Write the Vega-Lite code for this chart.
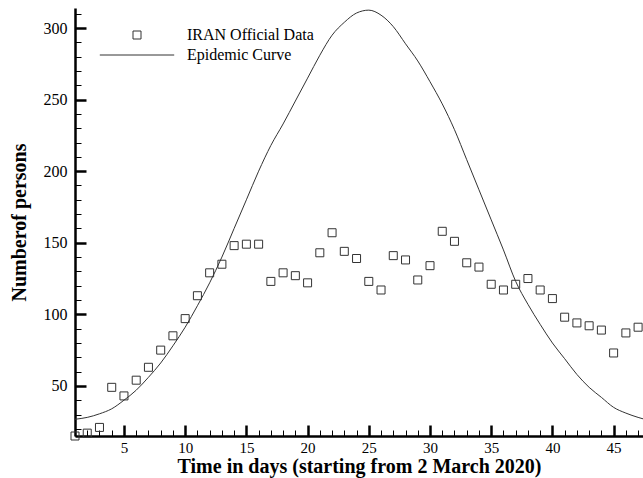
{
  "$schema": "https://vega.github.io/schema/vega-lite/v6.json",
  "width": 568,
  "height": 428,
  "autosize": {"type": "none"},
  "padding": {"left": 75, "top": 8, "right": 0, "bottom": 42},
  "background": "white",
  "config": {"view": {"stroke": null}},
  "datasets": {
    "obs": [
      {"day": 1, "value": 15, "series": "IRAN Official Data"},
      {"day": 2, "value": 17, "series": "IRAN Official Data"},
      {"day": 3, "value": 21, "series": "IRAN Official Data"},
      {"day": 4, "value": 49, "series": "IRAN Official Data"},
      {"day": 5, "value": 43, "series": "IRAN Official Data"},
      {"day": 6, "value": 54, "series": "IRAN Official Data"},
      {"day": 7, "value": 63, "series": "IRAN Official Data"},
      {"day": 8, "value": 75, "series": "IRAN Official Data"},
      {"day": 9, "value": 85, "series": "IRAN Official Data"},
      {"day": 10, "value": 97, "series": "IRAN Official Data"},
      {"day": 11, "value": 113, "series": "IRAN Official Data"},
      {"day": 12, "value": 129, "series": "IRAN Official Data"},
      {"day": 13, "value": 135, "series": "IRAN Official Data"},
      {"day": 14, "value": 148, "series": "IRAN Official Data"},
      {"day": 15, "value": 149, "series": "IRAN Official Data"},
      {"day": 16, "value": 149, "series": "IRAN Official Data"},
      {"day": 17, "value": 123, "series": "IRAN Official Data"},
      {"day": 18, "value": 129, "series": "IRAN Official Data"},
      {"day": 19, "value": 127, "series": "IRAN Official Data"},
      {"day": 20, "value": 122, "series": "IRAN Official Data"},
      {"day": 21, "value": 143, "series": "IRAN Official Data"},
      {"day": 22, "value": 157, "series": "IRAN Official Data"},
      {"day": 23, "value": 144, "series": "IRAN Official Data"},
      {"day": 24, "value": 139, "series": "IRAN Official Data"},
      {"day": 25, "value": 123, "series": "IRAN Official Data"},
      {"day": 26, "value": 117, "series": "IRAN Official Data"},
      {"day": 27, "value": 141, "series": "IRAN Official Data"},
      {"day": 28, "value": 138, "series": "IRAN Official Data"},
      {"day": 29, "value": 124, "series": "IRAN Official Data"},
      {"day": 30, "value": 134, "series": "IRAN Official Data"},
      {"day": 31, "value": 158, "series": "IRAN Official Data"},
      {"day": 32, "value": 151, "series": "IRAN Official Data"},
      {"day": 33, "value": 136, "series": "IRAN Official Data"},
      {"day": 34, "value": 133, "series": "IRAN Official Data"},
      {"day": 35, "value": 121, "series": "IRAN Official Data"},
      {"day": 36, "value": 117, "series": "IRAN Official Data"},
      {"day": 37, "value": 121, "series": "IRAN Official Data"},
      {"day": 38, "value": 125, "series": "IRAN Official Data"},
      {"day": 39, "value": 117, "series": "IRAN Official Data"},
      {"day": 40, "value": 111, "series": "IRAN Official Data"},
      {"day": 41, "value": 98, "series": "IRAN Official Data"},
      {"day": 42, "value": 94, "series": "IRAN Official Data"},
      {"day": 43, "value": 92, "series": "IRAN Official Data"},
      {"day": 44, "value": 89, "series": "IRAN Official Data"},
      {"day": 45, "value": 73, "series": "IRAN Official Data"},
      {"day": 46, "value": 87, "series": "IRAN Official Data"},
      {"day": 47, "value": 91, "series": "IRAN Official Data"}
    ],
    "curve": [
      {"day": 1, "value": 26.7}, {"day": 2, "value": 28}, {"day": 3, "value": 30.5},
      {"day": 4, "value": 34}, {"day": 5, "value": 40}, {"day": 6, "value": 47},
      {"day": 7, "value": 56}, {"day": 8, "value": 66}, {"day": 9, "value": 78},
      {"day": 10, "value": 91}, {"day": 11, "value": 106}, {"day": 12, "value": 122},
      {"day": 13, "value": 140}, {"day": 14, "value": 160}, {"day": 15, "value": 180},
      {"day": 16, "value": 200}, {"day": 17, "value": 218}, {"day": 18, "value": 233},
      {"day": 19, "value": 249}, {"day": 20, "value": 265}, {"day": 21, "value": 281},
      {"day": 22, "value": 295}, {"day": 23, "value": 304}, {"day": 24, "value": 310.5},
      {"day": 25, "value": 312.5}, {"day": 26, "value": 309}, {"day": 27, "value": 301},
      {"day": 28, "value": 289}, {"day": 29, "value": 277}, {"day": 30, "value": 262.5},
      {"day": 31, "value": 247}, {"day": 32, "value": 229}, {"day": 33, "value": 208},
      {"day": 34, "value": 187}, {"day": 35, "value": 166}, {"day": 36, "value": 145},
      {"day": 37, "value": 123}, {"day": 38, "value": 107}, {"day": 39, "value": 93},
      {"day": 40, "value": 80}, {"day": 41, "value": 69}, {"day": 42, "value": 58},
      {"day": 43, "value": 49}, {"day": 44, "value": 42}, {"day": 45, "value": 35},
      {"day": 46, "value": 31}, {"day": 47, "value": 28}, {"day": 47.4, "value": 27}
    ]
  },
  "encoding": {
    "x": {
      "field": "day", "type": "quantitative",
      "scale": {"domain": [1, 47.4], "nice": false, "zero": false},
      "axis": {
        "title": "Time in days (starting from 2 March 2020)",
        "values": [1,2,3,4,5,6,7,8,9,10,11,12,13,14,15,16,17,18,19,20,21,22,23,24,25,26,27,28,29,30,31,32,33,34,35,36,37,38,39,40,41,42,43,44,45,46,47],
        "labelExpr": "datum.value % 5 === 0 ? datum.label : ''",
        "tickSize": {"condition": {"test": "datum.value % 5 === 0", "value": -11}, "value": -6},
        "tickWidth": {"condition": {"test": "datum.value % 5 === 0", "value": 2.5}, "value": 1},
        "tickColor": "black",
        "domainColor": "black",
        "domainWidth": 2.5,
        "grid": false,
        "labelFont": "Liberation Serif",
        "labelFontSize": 15,
        "labelColor": "black",
        "labelPadding": 15,
        "labelFlush": false,
        "titleFont": "Liberation Serif",
        "titleFontSize": 20,
        "titleFontWeight": "bold",
        "titleColor": "black",
        "titlePadding": 1
      }
    },
    "y": {
      "field": "value", "type": "quantitative",
      "scale": {"domain": [15, 314], "nice": false, "zero": false},
      "axis": {
        "title": "Numberof persons",
        "values": [20,30,40,50,60,70,80,90,100,110,120,130,140,150,160,170,180,190,200,210,220,230,240,250,260,270,280,290,300,310],
        "labelExpr": "datum.value % 50 === 0 ? datum.label : ''",
        "tickSize": {"condition": {"test": "datum.value % 50 === 0", "value": -11}, "value": -6},
        "tickWidth": {"condition": {"test": "datum.value % 50 === 0", "value": 2.5}, "value": 1},
        "tickColor": "black",
        "domainColor": "black",
        "domainWidth": 2.5,
        "grid": false,
        "labelFont": "Liberation Serif",
        "labelFontSize": 16,
        "labelColor": "black",
        "labelPadding": 19,
        "labelFlush": false,
        "titleFont": "Liberation Serif",
        "titleFontSize": 20,
        "titleFontWeight": "bold",
        "titleColor": "black",
        "titlePadding": 14
      }
    }
  },
  "layer": [
    {
      "data": {"name": "curve"},
      "mark": {"type": "line", "color": "#333333", "strokeWidth": 1, "interpolate": "monotone"},
      "encoding": {}
    },
    {
      "data": {"name": "obs"},
      "mark": {"type": "point", "filled": false, "color": "#333333", "strokeWidth": 1, "size": 64, "opacity": 1},
      "encoding": {
        "shape": {
          "field": "series", "type": "nominal",
          "scale": {"domain": ["IRAN Official Data", "Epidemic Curve"], "range": ["square", "M-9.3,0H9.3"]},
          "legend": {
            "title": null,
            "orient": "none",
            "legendX": 54,
            "legendY": 19,
            "padding": 0,
            "symbolSize": 64,
            "symbolStrokeColor": "#333333",
            "symbolFillColor": "transparent",
            "symbolStrokeWidth": 1,
            "labelFont": "Liberation Serif",
            "labelFontSize": 16,
            "labelColor": "black",
            "labelOffset": 42,
            "rowPadding": 4
          }
        }
      }
    }
  ]
}
